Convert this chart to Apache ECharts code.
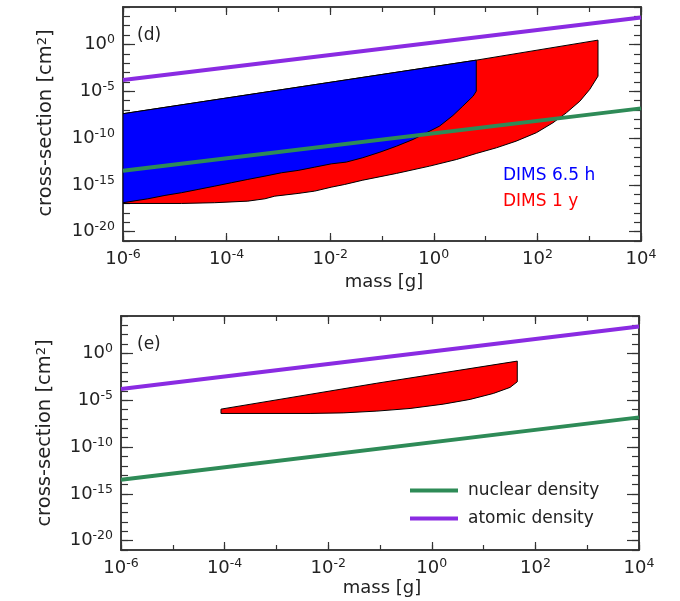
<!DOCTYPE html>
<html>
<head>
<meta charset="utf-8">
<script src="https://cdn.jsdelivr.net/npm/echarts@6/dist/echarts.min.js"></script>
<style>
  html, body { margin: 0; padding: 0; background: #fff; }
  #chart { width: 680px; height: 601px; }
</style>
</head>
<body>
<div id="chart"></div>
<script>
// all values are base-10 exponents: mass in g, cross-section in cm^2
var xLabelExps = [-6, -4, -2, 0, 2, 4];
var yLabelExps = [-20, -15, -10, -5, 0];

// density lines (end points)
var lineMass = [-6, 4];
var atomicSigma = [-3.8, 2.87];
var nuclearSigma = [-13.5, -6.83];

// panel (d) : DIMS 6.5 h region
var dims65Mass = [-6, 0.82, 0.82, 0.76, 0.56, 0.37, 0.11, -0.14, -0.40, -0.72, -1.04, -1.37, -1.69, -1.98,
  -2.30, -2.62, -2.94, -3.26, -3.59, -3.91, -4.23, -4.55, -4.87, -5.19, -5.52, -6];
var dims65Sigma = [-7.40, -1.68, -4.99, -5.52, -6.59, -7.59, -8.73, -9.43, -10.15, -10.87, -11.51, -12.10, -12.57, -12.76,
  -13.11, -13.46, -13.71, -14.07, -14.42, -14.78, -15.14, -15.49, -15.84, -16.13, -16.49, -16.91];

// panel (d) : DIMS 1 y region
var dims1yMass = [-6, 0.82, 3.17, 3.17, 3.01, 2.82, 2.56, 2.30, 1.98, 1.59, 1.21, 0.82, 0.44, -0.08, -0.72,
  -1.37, -1.72, -1.98, -2.30, -2.62, -3.07, -3.26, -3.59, -4.23, -4.87, -6];
var dims1ySigma = [-7.40, -1.68, 0.46, -3.39, -4.81, -6.06, -7.30, -8.37, -9.43, -10.33, -11.04, -11.65, -12.29, -13.00, -13.78,
  -14.50, -14.96, -15.25, -15.67, -15.92, -16.21, -16.49, -16.74, -16.91, -16.99, -16.99];

// panel (e) region
var panelEMass = [-4.07, -1.06, 1.65, 1.65, 1.51, 1.19, 0.74, 0.22, -0.42, -1.06, -1.71, -2.35, -4.07];
var panelESigma = [-5.95, -3.18, -0.82, -3.03, -3.63, -4.27, -4.91, -5.42, -5.88, -6.16, -6.35, -6.41, -6.41];

var FONT = 'DejaVu Sans';
var AX = '#333';
var chart = echarts.init(document.getElementById('chart'));

var powRich = {
  b: { fontSize: 18, fontFamily: FONT, color: '#222', lineHeight: 22 },
  s: { fontSize: 12.5, fontFamily: FONT, color: '#222', verticalAlign: 'top', lineHeight: 13 }
};
function powLabel (v) { return '{b|10}{s|' + v + '}'; }

function makeX (grid, pos, major) {
  return {
    type: 'value', gridIndex: grid, position: pos, min: -6, max: 4, interval: major ? 2 : 1,
    axisLine: { show: true, onZero: false, lineStyle: { color: AX, width: 1.5 } },
    axisTick: { show: true, inside: true, length: major ? 8 : 5, lineStyle: { color: AX, width: 1.2 } },
    axisLabel: { show: major && pos === 'bottom', margin: 7, formatter: powLabel, rich: powRich,
      customValues: xLabelExps },
    splitLine: { show: false }
  };
}
function makeY (grid, pos, major) {
  var ax = {
    type: 'value', gridIndex: grid, position: pos, min: -21, max: 4, interval: 1,
    axisLine: { show: true, onZero: false, lineStyle: { color: AX, width: 1.5 } },
    axisTick: { show: true, inside: true, length: major ? 12 : 7, lineStyle: { color: AX, width: 1.2 } },
    axisLabel: { show: major && pos === 'left', margin: 8, formatter: powLabel, rich: powRich },
    splitLine: { show: false }
  };
  if (major) {
    ax.axisTick.customValues = yLabelExps;
    ax.axisLabel.customValues = yLabelExps;
  }
  return ax;
}

function pairs (xs, ys) {
  return xs.map(function (x, i) { return [x, ys[i]]; });
}

function region (name, xs, ys, color, axisIdx, z) {
  var pts = pairs(xs, ys);
  return {
    type: 'custom', name: name, xAxisIndex: axisIdx, yAxisIndex: axisIdx, z: z, clip: true, silent: true,
    data: pts,
    renderItem: function (params, api) {
      if (params.dataIndex !== 0) return;
      return {
        type: 'polygon',
        shape: { points: pts.map(function (p) { return api.coord(p); }) },
        style: { fill: color, stroke: '#000', lineWidth: 1 }
      };
    }
  };
}

function densityLine (name, ys, color, axisIdx, z) {
  return {
    type: 'line', name: name, xAxisIndex: axisIdx, yAxisIndex: axisIdx, z: z,
    data: pairs(lineMass, ys), showSymbol: false, silent: true,
    lineStyle: { color: color, width: 4 }, itemStyle: { color: color }
  };
}

var yTitleRich = { s: { fontSize: 13, fontFamily: FONT, fill: '#222', verticalAlign: 'top' } };

var option = {
  backgroundColor: '#fff',
  animation: false,
  grid: [
    { left: 123, top: 7, width: 518, height: 234 },
    { left: 121, top: 316, width: 518, height: 234 }
  ],
  xAxis: [
    makeX(0, 'bottom', true), makeX(0, 'bottom', false), makeX(0, 'top', true), makeX(0, 'top', false),
    makeX(1, 'bottom', true), makeX(1, 'bottom', false), makeX(1, 'top', true), makeX(1, 'top', false)
  ],
  yAxis: [
    makeY(0, 'left', true), makeY(0, 'left', false), makeY(0, 'right', true), makeY(0, 'right', false),
    makeY(1, 'left', true), makeY(1, 'left', false), makeY(1, 'right', true), makeY(1, 'right', false)
  ],
  legend: {
    data: ['nuclear density', 'atomic density'],
    orient: 'vertical', left: 405, top: 477, itemGap: 11,
    icon: 'rect', itemWidth: 48, itemHeight: 4, selectedMode: false,
    textStyle: { fontFamily: FONT, fontSize: 17, color: '#222', padding: [0, 0, 0, 5] }
  },
  graphic: [
    { type: 'text', left: 137, top: 27, style: { text: '(d)', font: '17px "DejaVu Sans"', fill: '#222' } },
    { type: 'text', left: 137, top: 336, style: { text: '(e)', font: '17px "DejaVu Sans"', fill: '#222' } },
    { type: 'text', left: 503, top: 167, style: { text: 'DIMS 6.5 h', font: '17px "DejaVu Sans"', fill: '#0000ff' } },
    { type: 'text', left: 503, top: 193, style: { text: 'DIMS 1 y', font: '17px "DejaVu Sans"', fill: '#ff0000' } },
    { type: 'text', x: 384, y: 282, style: { text: 'mass [g]', font: '18px "DejaVu Sans"', fill: '#222', align: 'center', verticalAlign: 'middle' } },
    { type: 'text', x: 382, y: 588, style: { text: 'mass [g]', font: '18px "DejaVu Sans"', fill: '#222', align: 'center', verticalAlign: 'middle' } },
    { type: 'text', x: 46, y: 123, rotation: Math.PI / 2,
      style: { text: 'cross-section [cm{s|2}]', font: '19.5px "DejaVu Sans"', fill: '#222', align: 'center', verticalAlign: 'middle',
        rich: yTitleRich } },
    { type: 'text', x: 45, y: 433, rotation: Math.PI / 2,
      style: { text: 'cross-section [cm{s|2}]', font: '19.5px "DejaVu Sans"', fill: '#222', align: 'center', verticalAlign: 'middle',
        rich: yTitleRich } }
  ],
  series: [
    region('DIMS 1 y', dims1yMass, dims1ySigma, '#ff0000', 0, 2),
    region('DIMS 6.5 h', dims65Mass, dims65Sigma, '#0000ff', 0, 3),
    densityLine('nuclear density', nuclearSigma, '#2e8b57', 0, 4),
    densityLine('atomic density', atomicSigma, '#8a2be2', 0, 4),
    region('DIMS 1 y (e)', panelEMass, panelESigma, '#ff0000', 4, 2),
    densityLine('nuclear density', nuclearSigma, '#2e8b57', 4, 4),
    densityLine('atomic density', atomicSigma, '#8a2be2', 4, 4)
  ]
};
chart.setOption(option);
</script>
</body>
</html>
